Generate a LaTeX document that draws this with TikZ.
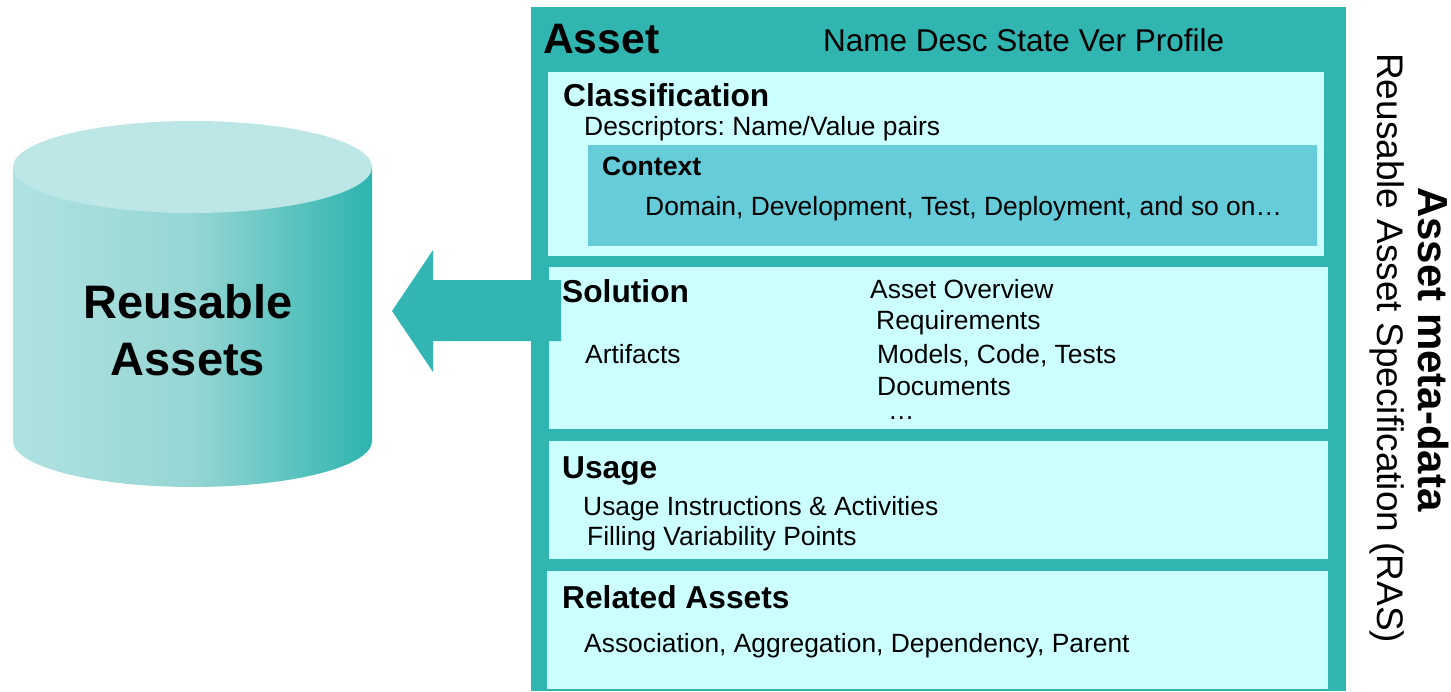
\documentclass[tikz,border=0pt]{standalone}
\usepackage{fontspec}
\setmainfont{Liberation Sans}
\definecolor{tealc}{HTML}{30B5B0}
\definecolor{panelc}{HTML}{CCFFFF}
\definecolor{ctxc}{HTML}{66CCDA}
\definecolor{arrowc}{HTML}{33B6B3}
\definecolor{cylL}{HTML}{B0E2E2}
\definecolor{cylM}{HTML}{96D6D4}
\definecolor{cylR}{HTML}{2DB4AF}
\definecolor{cylTop}{HTML}{BDE7E6}
\frenchspacing
\begin{document}
\begin{tikzpicture}[x=1pt,y=-1pt,
  txt/.style={anchor=base west, inner sep=0pt, font=\fontsize{26.4}{30}\selectfont},
  head/.style={anchor=base west, inner sep=0pt, font=\fontsize{31.7}{36}\selectfont\bfseries},
  panel/.style={fill=panelc},
  cylshade/.style={left color=cylL, right color=cylR, middle color=cylM}]
\useasboundingbox (0,0) rectangle (1451,691);
% cylinder
\shade[cylshade] (13,167) rectangle (372,441);
\shade[cylshade] (192.5,441) ellipse [x radius=179.5, y radius=46];
\fill[cylTop] (192.5,167) ellipse [x radius=179.5, y radius=46];
\node[anchor=base, inner sep=0pt, font=\fontsize{47}{56}\selectfont\bfseries] (ra1) at (188,318) {Reusable};
\node[anchor=base, inner sep=0pt, font=\fontsize{47}{56}\selectfont\bfseries] (ra2) at (188,375) {Assets};
% asset frame
\fill[tealc] (531,7) rectangle (1346,691);
\fill[panel] (548,72) rectangle (1324,256);
\fill[ctxc] (588,145) rectangle (1317,246);
\fill[panel] (549,267) rectangle (1328,429);
\fill[panel] (549,441) rectangle (1328,559);
\fill[panel] (547,571) rectangle (1328,689);
% block arrow
\fill[arrowc] (392,311) -- (433,250) -- (433,280) -- (561,280) -- (561,341) -- (433,341) -- (433,372) -- cycle;
% texts
\node[anchor=base west, inner sep=0pt, font=\fontsize{42.6}{48}\selectfont\bfseries] (asset) at (543,53) {Asset};
\node[anchor=base west, inner sep=0pt, font=\fontsize{31.5}{36}\selectfont] (attrs) at (823,51) {Name Desc State Ver Profile};
\node[head] (cls) at (563,106) {Classification};
\node[txt] (desc) at (584,135) {Descriptors: Name/Value pairs};
\node[anchor=base west, inner sep=0pt, font=\fontsize{26.6}{30}\selectfont\bfseries] (ctx) at (602,175) {Context};
\node[txt] (dom) at (645,215) {Domain, Development, Test, Deployment, and so on…};
\node[head] (sol) at (562,302) {Solution};
\node[txt] (ov) at (870,298) {Asset Overview};
\node[txt] (req) at (876,329) {Requirements};
\node[txt] (art) at (585,363) {Artifacts};
\node[txt] (mod) at (877,363) {Models, Code, Tests};
\node[txt] (doc) at (877,395) {Documents};
\node[txt] (dots) at (888,419) {…};
\node[head] (use) at (562,478) {Usage};
\node[txt] (ui) at (583,515) {Usage Instructions \& Activities};
\node[txt] (fv) at (587,545) {Filling Variability Points};
\node[head] (rel) at (562,608) {Related Assets};
\node[txt] (assoc) at (584,652) {Association, Aggregation, Dependency, Parent};
% vertical texts
\node[anchor=base west, inner sep=0pt, rotate=-90, font=\fontsize{42}{48}\selectfont\bfseries] (meta) at (1418,187) {Asset meta-data};
\node[anchor=base west, inner sep=0pt, rotate=-90, font=\fontsize{37}{42}\selectfont] (ras) at (1377,53) {Reusable Asset Specification (RAS)};
\end{tikzpicture}
\end{document}
